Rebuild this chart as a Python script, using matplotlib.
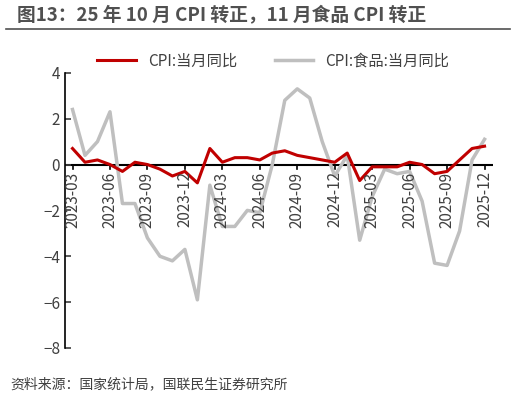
import matplotlib
matplotlib.use("Agg")
import matplotlib.pyplot as plt
import matplotlib.lines as mlines

plt.rcParams['font.family'] = ['Noto Sans CJK SC', 'DejaVu Sans']

months = ["2023-03","2023-04","2023-05","2023-06","2023-07","2023-08","2023-09","2023-10","2023-11","2023-12",
          "2024-01","2024-02","2024-03","2024-04","2024-05","2024-06","2024-07","2024-08","2024-09","2024-10",
          "2024-11","2024-12","2025-01","2025-02","2025-03","2025-04","2025-05","2025-06","2025-07","2025-08",
          "2025-09","2025-10","2025-11","2025-12"]
cpi = [0.7,0.1,0.2,0.0,-0.3,0.1,0.0,-0.2,-0.5,-0.3,-0.8,0.7,0.1,0.3,0.3,0.2,0.5,0.6,0.4,0.3,
       0.2,0.1,0.5,-0.7,-0.1,-0.1,-0.1,0.1,0.0,-0.4,-0.3,0.2,0.7,0.8]
food = [2.4,0.4,1.0,2.3,-1.7,-1.7,-3.2,-4.0,-4.2,-3.7,-5.9,-0.9,-2.7,-2.7,-2.0,-2.1,0.0,2.8,3.3,2.9,
        1.0,-0.5,0.4,-3.3,-1.4,-0.2,-0.4,-0.3,-1.6,-4.3,-4.4,-2.9,0.2,1.1]

fig = plt.figure(figsize=(5.16,4.0), dpi=100)
ax = fig.add_axes([0.126, 0.13, 0.83, 0.688])
x = list(range(len(months)))
ax.plot(x, food, color='#BFBFBF', lw=2.5, label='CPI:食品:当月同比')
ax.plot(x, cpi, color='#C00000', lw=2.2, label='CPI:当月同比')
ax.set_ylim(-8, 4)
ax.set_xlim(-0.6, len(months)-0.3)
ax.set_yticks([-8,-6,-4,-2,0,2,4])
ax.tick_params(axis='y', labelsize=11, colors='#404040', direction='in', length=4, width=1.2)
for s in ['top','right','bottom']:
    ax.spines[s].set_visible(False)
ax.spines['left'].set_linewidth(1.2)
ax.axhline(0, color='black', lw=1.5, zorder=1)
ax.set_xticks([])
for i in range(0, len(months), 3):
    ax.plot([i, i], [0, -0.2], color='black', lw=1.2, zorder=1)
    ax.text(i, -0.3, months[i], rotation=90, ha='center', va='top', fontsize=11, color='#404040')
h1 = mlines.Line2D([], [], color='#C00000', lw=2.2)
h2 = mlines.Line2D([], [], color='#BFBFBF', lw=2.5)
fig.legend([h1, h2], ['CPI:当月同比', 'CPI:食品:当月同比'], loc='center', bbox_to_anchor=(0.53, 0.848),
           ncol=2, frameon=False, fontsize=11, handlelength=2.5, columnspacing=2.5, labelcolor='#404040')
fig.text(0.032, 0.963, '图13：25 年 10 月 CPI 转正，11 月食品 CPI 转正', fontsize=13.5, fontweight='bold',
         va='center', ha='left', color='#505050')
fig.add_artist(mlines.Line2D([0.012, 0.988], [0.928, 0.928], color='#505050', lw=1.2, transform=fig.transFigure))
fig.text(0.02, 0.04, '资料来源：国家统计局，国联民生证券研究所', fontsize=10, va='center', ha='left', color='#404040')
fig.savefig('out.png', dpi=100)
